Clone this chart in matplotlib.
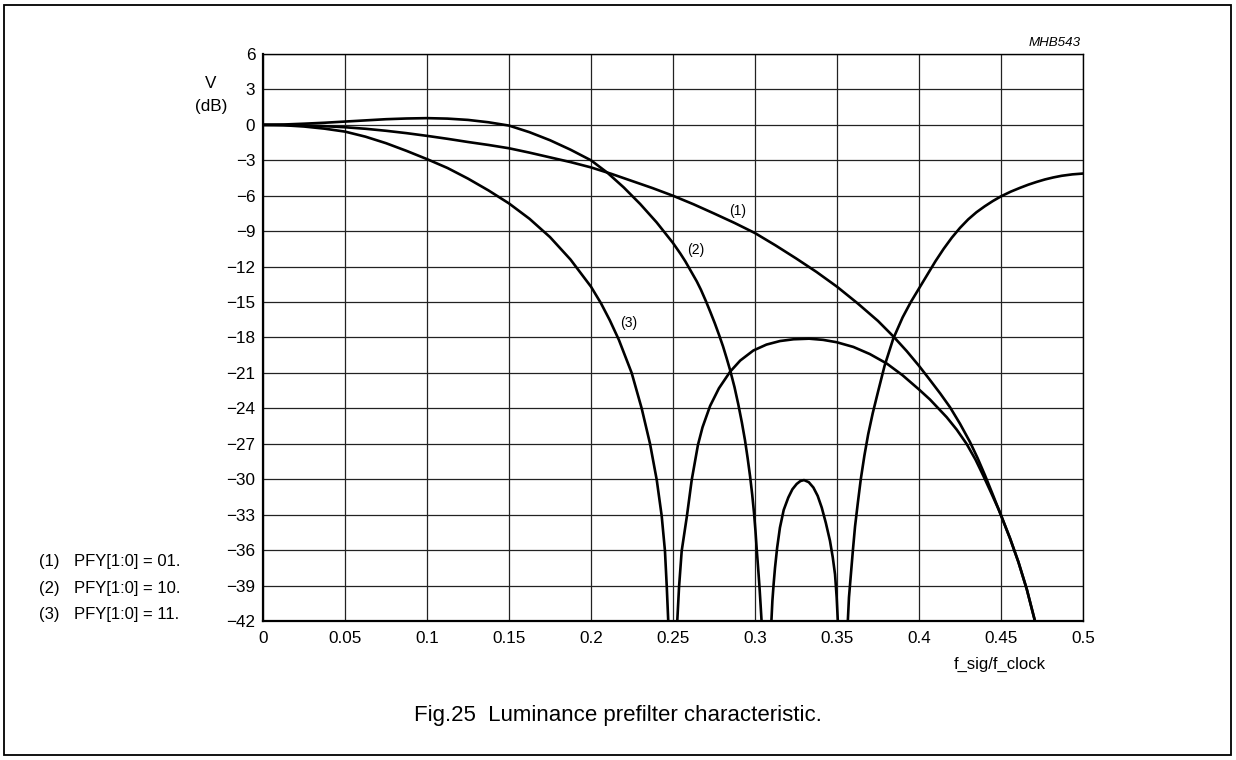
import matplotlib
matplotlib.use("Agg")
import matplotlib.pyplot as plt
from matplotlib.patches import Rectangle

plt.rcParams['font.family'] = ['Liberation Sans', 'DejaVu Sans']

# curve (1): PFY[1:0] = 01
c1_x = [0, 0.0125, 0.025, 0.0375, 0.05, 0.0625, 0.075, 0.0875, 0.1, 0.1125, 0.125, 0.1375,
        0.15, 0.1625, 0.175, 0.1875, 0.2, 0.2125, 0.225, 0.2375, 0.25, 0.2625, 0.275, 0.2875,
        0.3, 0.3125, 0.325, 0.3375, 0.35, 0.3625, 0.375, 0.3843, 0.3925, 0.4, 0.4067, 0.413,
        0.4189, 0.425, 0.4311, 0.4357, 0.4402, 0.445, 0.45, 0.4555, 0.4606, 0.4657, 0.4707]
c1_y = [0, -0.01, -0.05, -0.11, -0.2, -0.33, -0.5, -0.7, -0.93, -1.18, -1.45, -1.7,
        -1.98, -2.35, -2.75, -3.15, -3.6, -4.15, -4.75, -5.35, -6.0, -6.72, -7.5, -8.3,
        -9.16, -10.2, -11.3, -12.45, -13.7, -15.1, -16.6, -17.9, -19.15, -20.4, -21.6, -22.75,
        -23.9, -25.3, -26.85, -28.2, -29.65, -31.3, -33.05, -35.0, -37.0, -39.3, -42]

# curve (2): PFY[1:0] = 10, three lobes
c2a_x = [0, 0.0125, 0.025, 0.0375, 0.05, 0.0625, 0.075, 0.0875, 0.1, 0.1125, 0.125, 0.1375,
         0.15, 0.1625, 0.175, 0.1875, 0.2, 0.21, 0.22, 0.23, 0.24, 0.25, 0.2545, 0.2575, 0.261,
         0.2645, 0.267, 0.27, 0.2728, 0.2755, 0.278, 0.2805, 0.2827, 0.2848, 0.2875, 0.2898,
         0.292, 0.2939, 0.2955, 0.297, 0.2983, 0.2994, 0.3003, 0.301, 0.3019, 0.3027, 0.3034,
         0.304]
c2a_y = [0, 0.03, 0.1, 0.18, 0.28, 0.38, 0.48, 0.54, 0.57, 0.53, 0.42, 0.22,
         -0.06, -0.62, -1.3, -2.1, -3.0, -4.05, -5.3, -6.7, -8.25, -10.0, -10.9, -11.55, -12.4,
         -13.25, -13.95, -14.9, -15.85, -16.8, -17.75, -18.75, -19.75, -20.75, -22.2, -23.65,
         -25.2, -26.7, -28.2, -29.75, -31.3, -32.85, -34.4, -35.85, -37.5, -39.05, -40.6,
         -42]
c2b_x = [0.31, 0.3106, 0.3114, 0.3122, 0.3135, 0.3152, 0.3175, 0.3203, 0.3228, 0.3254, 0.3277,
         0.3299, 0.3328, 0.3356, 0.3382, 0.3407, 0.3432, 0.3457, 0.3474, 0.3488, 0.3498, 0.3505]
c2b_y = [-42, -40.3, -38.8, -37.5, -35.8, -34.1, -32.6, -31.55, -30.85, -30.4, -30.15,
         -30.07, -30.25, -30.7, -31.4, -32.4, -33.7, -35.2, -36.6, -38.05, -40.0, -42]
c2c_x = [0.3566, 0.3573, 0.3585, 0.3597, 0.361, 0.3627, 0.3645, 0.3667, 0.369, 0.3718, 0.375,
         0.379, 0.3843, 0.39, 0.395, 0.4, 0.405, 0.41, 0.415, 0.42, 0.425, 0.43, 0.435,
         0.44, 0.445, 0.45, 0.456, 0.4616, 0.4667, 0.4717, 0.4768, 0.4819, 0.487, 0.4935, 0.5]
c2c_y = [-42, -40, -38, -36, -34, -32, -30, -28, -26.2, -24.4, -22.6,
         -20.4, -18.1, -16.3, -15.0, -13.85, -12.7, -11.55, -10.5, -9.55, -8.72, -8.0, -7.4,
         -6.9, -6.45, -6.05, -5.65, -5.33, -5.06, -4.83, -4.62, -4.45, -4.31, -4.19, -4.12]

# curve (3): PFY[1:0] = 11, two lobes
c3a_x = [0, 0.0125, 0.025, 0.0375, 0.05, 0.0625, 0.075, 0.0875, 0.1, 0.1125, 0.125, 0.1375,
         0.15, 0.1625, 0.175, 0.1875, 0.2, 0.206, 0.2115, 0.217, 0.2248, 0.2309, 0.236,
         0.2401, 0.2431, 0.2451, 0.2462, 0.2471]
c3a_y = [0, -0.03, -0.14, -0.32, -0.57, -1.0, -1.55, -2.2, -2.9, -3.65, -4.55, -5.55,
         -6.65, -7.95, -9.5, -11.4, -13.7, -15.08, -16.55, -18.2, -21.0, -24.0, -27.0,
         -30.07, -33.1, -36.07, -39.1, -42]
c3b_x = [0.2526, 0.2537, 0.2553, 0.2585, 0.2614, 0.2652, 0.268, 0.2726, 0.278, 0.2848, 0.291,
         0.299, 0.307, 0.3152, 0.3235, 0.333, 0.3415, 0.3498, 0.36, 0.37, 0.3803, 0.39, 0.4,
         0.4067, 0.4169, 0.423, 0.429, 0.4345, 0.4392, 0.444, 0.4487, 0.45, 0.4555, 0.4606,
         0.4657, 0.4707]
c3b_y = [-42, -39.1, -36.07, -33.1, -30.07, -27.1, -25.6, -23.8, -22.3, -20.9, -19.95,
         -19.1, -18.6, -18.3, -18.15, -18.1, -18.2, -18.4, -18.8, -19.4, -20.2, -21.2, -22.4,
         -23.25, -24.75, -25.8, -27.0, -28.35, -29.7, -31.15, -32.6, -33.05, -35.0, -37.0,
         -39.3, -42]

x_ticks = [0, 0.05, 0.1, 0.15, 0.2, 0.25, 0.3, 0.35, 0.4, 0.45, 0.5]
x_tick_labels = ['0', '0.05', '0.1', '0.15', '0.2', '0.25', '0.3', '0.35', '0.4', '0.45', '0.5']
y_ticks = list(range(-42, 7, 3))
y_tick_labels = [str(v).replace('-', '\u2212') for v in y_ticks]

legend_nums = ['(1)', '(2)', '(3)']
legend_texts = ['PFY[1:0] = 01.', 'PFY[1:0] = 10.', 'PFY[1:0] = 11.']

fig = plt.figure(figsize=(12.36, 7.6), dpi=100)
ax = fig.add_axes([263 / 1236, 139 / 760, 820 / 1236, 567 / 760])

lw = 1.9
curves = [(c1_x, c1_y), (c2a_x, c2a_y), (c2b_x, c2b_y), (c2c_x, c2c_y),
          (c3a_x, c3a_y), (c3b_x, c3b_y)]
for xs, ys in curves:
    ax.plot(xs, ys, color='black', lw=lw, solid_joinstyle='round')

ax.set_xlim(0, 0.5)
ax.set_ylim(-42, 6)
ax.set_xticks(x_ticks)
ax.set_xticklabels(x_tick_labels)
ax.set_yticks(y_ticks)
ax.set_yticklabels(y_tick_labels)
ax.tick_params(length=0, labelsize=12.3)
ax.tick_params(axis='x', pad=7)
ax.tick_params(axis='y', pad=5.5)
ax.grid(True, color='#222222', lw=0.9)
for s in ['left', 'bottom']:
    ax.spines[s].set_linewidth(1.6)
for s in ['top', 'right']:
    ax.spines[s].set_linewidth(1.0)

# curve labels
ax.text(0.2892, -7.3, '(1)', fontsize=10, ha='center', va='center')
ax.text(0.264, -10.6, '(2)', fontsize=10, ha='center', va='center')
ax.text(0.2232, -16.8, '(3)', fontsize=10, ha='center', va='center')

fig.text(211 / 1236, 1 - 84 / 760, 'V', fontsize=12.3, ha='center', va='center')
fig.text(211 / 1236, 1 - 106 / 760, '(dB)', fontsize=12.3, ha='center', va='center')
fig.text(1081 / 1236, 1 - 42.5 / 760, 'MHB543', fontsize=9.6, style='italic', ha='right', va='center')
fig.text(1000 / 1236, 1 - 664 / 760, 'f_sig/f_clock', fontsize=12, ha='center', va='center')
fig.text(618 / 1236, 1 - 716 / 760, 'Fig.25  Luminance prefilter characteristic.', fontsize=16,
         ha='center', va='center')

for i in range(3):
    yy = 1 - (561.7 + 26.6 * i) / 760
    fig.text(39 / 1236, yy, legend_nums[i], fontsize=12, ha='left', va='center')
    fig.text(74 / 1236, yy, legend_texts[i], fontsize=12, ha='left', va='center')

fig.add_artist(Rectangle((4 / 1236, 5 / 760), 1227 / 1236, 750 / 760, transform=fig.transFigure,
                         fill=False, edgecolor='black', lw=1.3))

fig.savefig('out.png', dpi=100)
